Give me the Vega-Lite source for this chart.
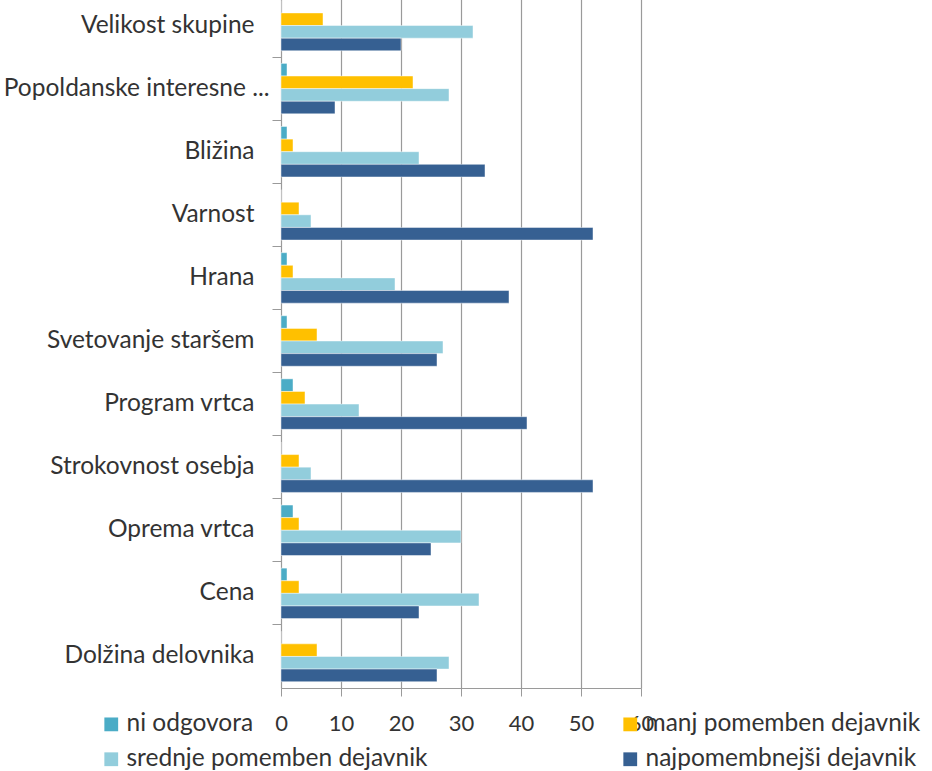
{
  "$schema": "https://vega.github.io/schema/vega-lite/v6.json",
  "autosize": {"type": "none"},
  "padding": {"left": 281, "top": -6, "right": 291, "bottom": 83},
  "width": 360,
  "height": 694,
  "background": "white",
  "config": {
    "view": {"stroke": null},
    "font": "Lato",
    "axis": {"labelFont": "Lato", "labelColor": "#333333", "domainColor": "#9a9a9a", "tickColor": "#9a9a9a", "gridColor": "#9a9a9a", "gridWidth": 1.2}
  },
  "data": {
    "values": [
      {"kategorija": "Velikost skupine", "serija": "ni odgovora", "vrednost": 0},
      {"kategorija": "Velikost skupine", "serija": "manj pomemben dejavnik", "vrednost": 7},
      {"kategorija": "Velikost skupine", "serija": "srednje pomemben dejavnik", "vrednost": 32},
      {"kategorija": "Velikost skupine", "serija": "najpomembnejši dejavnik", "vrednost": 20},
      {"kategorija": "Popoldanske interesne ...", "serija": "ni odgovora", "vrednost": 1},
      {"kategorija": "Popoldanske interesne ...", "serija": "manj pomemben dejavnik", "vrednost": 22},
      {"kategorija": "Popoldanske interesne ...", "serija": "srednje pomemben dejavnik", "vrednost": 28},
      {"kategorija": "Popoldanske interesne ...", "serija": "najpomembnejši dejavnik", "vrednost": 9},
      {"kategorija": "Bližina", "serija": "ni odgovora", "vrednost": 1},
      {"kategorija": "Bližina", "serija": "manj pomemben dejavnik", "vrednost": 2},
      {"kategorija": "Bližina", "serija": "srednje pomemben dejavnik", "vrednost": 23},
      {"kategorija": "Bližina", "serija": "najpomembnejši dejavnik", "vrednost": 34},
      {"kategorija": "Varnost", "serija": "ni odgovora", "vrednost": 0},
      {"kategorija": "Varnost", "serija": "manj pomemben dejavnik", "vrednost": 3},
      {"kategorija": "Varnost", "serija": "srednje pomemben dejavnik", "vrednost": 5},
      {"kategorija": "Varnost", "serija": "najpomembnejši dejavnik", "vrednost": 52},
      {"kategorija": "Hrana", "serija": "ni odgovora", "vrednost": 1},
      {"kategorija": "Hrana", "serija": "manj pomemben dejavnik", "vrednost": 2},
      {"kategorija": "Hrana", "serija": "srednje pomemben dejavnik", "vrednost": 19},
      {"kategorija": "Hrana", "serija": "najpomembnejši dejavnik", "vrednost": 38},
      {"kategorija": "Svetovanje staršem", "serija": "ni odgovora", "vrednost": 1},
      {"kategorija": "Svetovanje staršem", "serija": "manj pomemben dejavnik", "vrednost": 6},
      {"kategorija": "Svetovanje staršem", "serija": "srednje pomemben dejavnik", "vrednost": 27},
      {"kategorija": "Svetovanje staršem", "serija": "najpomembnejši dejavnik", "vrednost": 26},
      {"kategorija": "Program vrtca", "serija": "ni odgovora", "vrednost": 2},
      {"kategorija": "Program vrtca", "serija": "manj pomemben dejavnik", "vrednost": 4},
      {"kategorija": "Program vrtca", "serija": "srednje pomemben dejavnik", "vrednost": 13},
      {"kategorija": "Program vrtca", "serija": "najpomembnejši dejavnik", "vrednost": 41},
      {"kategorija": "Strokovnost osebja", "serija": "ni odgovora", "vrednost": 0},
      {"kategorija": "Strokovnost osebja", "serija": "manj pomemben dejavnik", "vrednost": 3},
      {"kategorija": "Strokovnost osebja", "serija": "srednje pomemben dejavnik", "vrednost": 5},
      {"kategorija": "Strokovnost osebja", "serija": "najpomembnejši dejavnik", "vrednost": 52},
      {"kategorija": "Oprema vrtca", "serija": "ni odgovora", "vrednost": 2},
      {"kategorija": "Oprema vrtca", "serija": "manj pomemben dejavnik", "vrednost": 3},
      {"kategorija": "Oprema vrtca", "serija": "srednje pomemben dejavnik", "vrednost": 30},
      {"kategorija": "Oprema vrtca", "serija": "najpomembnejši dejavnik", "vrednost": 25},
      {"kategorija": "Cena", "serija": "ni odgovora", "vrednost": 1},
      {"kategorija": "Cena", "serija": "manj pomemben dejavnik", "vrednost": 3},
      {"kategorija": "Cena", "serija": "srednje pomemben dejavnik", "vrednost": 33},
      {"kategorija": "Cena", "serija": "najpomembnejši dejavnik", "vrednost": 23},
      {"kategorija": "Dolžina delovnika", "serija": "ni odgovora", "vrednost": 0},
      {"kategorija": "Dolžina delovnika", "serija": "manj pomemben dejavnik", "vrednost": 6},
      {"kategorija": "Dolžina delovnika", "serija": "srednje pomemben dejavnik", "vrednost": 28},
      {"kategorija": "Dolžina delovnika", "serija": "najpomembnejši dejavnik", "vrednost": 26}
    ]
  },
  "mark": {"type": "bar", "stroke": "white", "strokeOpacity": 0.45, "strokeWidth": 1},
  "encoding": {
    "y": {
      "field": "kategorija",
      "type": "nominal",
      "sort": null,
      "scale": {"paddingInner": 0, "paddingOuter": 0},
      "axis": {
        "title": null,
        "bandPosition": 0,
        "labelFontSize": 24.5,
        "labelPadding": {"condition": {"test": "datum.value === 'Popoldanske interesne ...'", "value": 3}, "value": 18},
        "tickSize": 9,
        "labelLimit": 300,
        "grid": false
      }
    },
    "yOffset": {
      "field": "serija",
      "type": "nominal",
      "sort": ["ni odgovora", "manj pomemben dejavnik", "srednje pomemben dejavnik", "najpomembnejši dejavnik"],
      "scale": {"paddingInner": 0, "paddingOuter": 0.5}
    },
    "x": {
      "field": "vrednost",
      "type": "quantitative",
      "scale": {"domain": [0, 60], "nice": false},
      "axis": {
        "title": null,
        "values": [0, 10, 20, 30, 40, 50, 60],
        "grid": true,
        "labelFontSize": 22,
        "tickSize": 8,
        "labelPadding": 17,
        "labelFlush": false,
        "labelOverlap": false
      }
    },
    "color": {
      "field": "serija",
      "type": "nominal",
      "sort": ["ni odgovora", "manj pomemben dejavnik", "srednje pomemben dejavnik", "najpomembnejši dejavnik"],
      "scale": {
        "domain": ["ni odgovora", "manj pomemben dejavnik", "srednje pomemben dejavnik", "najpomembnejši dejavnik"],
        "range": ["#4BACC6", "#FFC000", "#92CDDC", "#366092"]
      },
      "legend": {
        "title": null,
        "orient": "none",
        "direction": "horizontal",
        "legendX": -182,
        "legendY": 718,
        "columns": 2,
        "columnPadding": 190,
        "rowPadding": 10,
        "symbolType": "square",
        "symbolSize": 190,
        "symbolStrokeWidth": 0,
        "symbolOffset": 0,
        "labelOffset": 3,
        "labelFont": "Lato",
        "labelFontSize": 24.5,
        "labelColor": "#333333",
        "labelLimit": 400
      }
    }
  }
}
